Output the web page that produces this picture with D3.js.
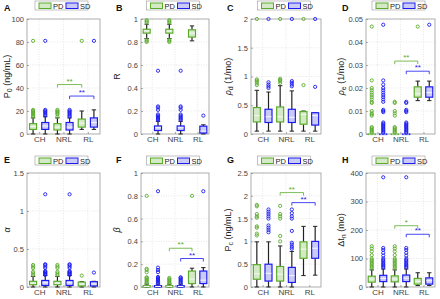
<!DOCTYPE html>
<html><head><meta charset="utf-8">
<script src="https://cdn.jsdelivr.net/npm/d3@7"></script>
<style>body{margin:0;background:#fff}svg{display:block;font-family:"Liberation Sans",Arial,sans-serif}</style>
</head><body><svg id="c" width="440" height="299"></svg>
<script>
const categories = ["CH", "NRL", "RL"];
const seriesNames = ["PD", "SD"];
// box order: CH-PD, CH-SD, NRL-PD, NRL-SD, RL-PD, RL-SD ; stats = [low, q1, median, q3, high]
const statsA = [[0,4,6.5,9,14],[0,4,7,10,15],[0,3.5,6,9,14],[0,3.5,6,10,14],[4,6,9.5,13,20],[4,6,10,14,21]];
const outA = [[15,16,17,18,19,20,21,81],[16,17,18,19,20,21,81],[15,17,18,19,20,21],[15,16,17,18,19,20,21],[81],[81]];
const sigA = [[3,5,43,"**",0],[4,6,33,"**",1]];
const ticksA = [0,20,40,60,80,100];

const statsB = [[0.83,0.877,0.897,0.911,0.955],[0,0.03,0.055,0.07,0.11],[0.83,0.877,0.895,0.911,0.955],[0,0.03,0.055,0.07,0.11],[0.81,0.843,0.877,0.906,0.94],[0,0.008,0.025,0.068,0.08]];
const outB = [[0.80,0.81,0.82,0.97,0.98,0.99],[0.12,0.13,0.14,0.15,0.16,0.17,0.21,0.23,0.24,0.55],[0.80,0.81,0.82,0.97,0.98,0.99],[0.12,0.13,0.14,0.15,0.16,0.17,0.21,0.23,0.24,0.55],[],[0.16]];
const sigB = [];
const ticksB = [0,0.2,0.4,0.6,0.8,1];

const statsC = [[0.05,0.21,0.32,0.46,0.76],[0.05,0.2,0.3,0.43,0.73],[0.05,0.21,0.3,0.47,0.84],[0.05,0.2,0.29,0.43,0.75],[0.05,0.17,0.34,0.39,0.40],[0.05,0.155,0.32,0.37,0.37]];
const outC = [[0.85,0.88,0.91,0.93,0.95,2],[0.8,0.83,0.86,0.9,2],[0.89,0.92,0.94,0.96,2],[0.83,0.86,0.89,0.92,2],[0.85,2],[0.82,2]];
const sigC = [];
const ticksC = [0,0.5,1,1.5,2];

const statsD = [[0,0,0,0,0],[0,0,0,0,0],[0,0,0,0,0],[0,0,0,0,0],[0.0145,0.016,0.0175,0.0205,0.023],[0.0145,0.016,0.018,0.0205,0.023]];
const outD = [[0.0005,0.001,0.0015,0.002,0.0025,0.003,0.008,0.0085,0.009,0.01,0.0135,0.014,0.015,0.016,0.017,0.018,0.019,0.02,0.0233,0.0467],
  [0.0005,0.001,0.0015,0.002,0.0025,0.003,0.0035,0.004,0.0045,0.005,0.0095,0.01,0.0105,0.014,0.015,0.016,0.017,0.018,0.019,0.02,0.0215,0.0233,0.0475],
  [0.0005,0.001,0.0015,0.002,0.0025,0.003,0.008,0.009,0.01,0.0135,0.014],
  [0.0005,0.001,0.0015,0.002,0.0025,0.003,0.0035,0.004,0.0045,0.005,0.0095,0.01,0.0105,0.0135,0.014],
  [0.0467],[0.0475]];
const sigD = [[3,5,0.0317,"**",0],[4,6,0.0273,"**",1]];
const ticksD = [0,0.01,0.02,0.03,0.04,0.05];

const statsE = [[0,0.03,0.05,0.075,0.14],[0,0.02,0.056,0.086,0.15],[0,0.03,0.05,0.075,0.14],[0,0.02,0.056,0.086,0.15],[0,0.013,0.04,0.065,0.07],[0,0.013,0.04,0.07,0.075]];
const outE = [[0.16,0.18,0.2,0.25,0.27,0.29],[0.16,0.17,0.18,0.19,0.2,0.21,0.25,0.27,0.29,0.3,1.22],[0.16,0.18,0.2,0.25,0.27,0.29],[0.16,0.17,0.18,0.19,0.2,0.21,0.25,0.27,0.29,0.3,1.22],[0.15],[0.19]];
const sigE = [];
const ticksE = [0,0.5,1,1.5];

const statsF = [[0,0,0.005,0.012,0.025],[0,0,0.005,0.012,0.025],[0,0,0.005,0.012,0.025],[0,0,0.005,0.012,0.025],[0,0.03,0.07,0.14,0.165],[0,0.03,0.06,0.14,0.17]];
const outF = [[0.03,0.04,0.05,0.06,0.07,0.08,0.085,0.13,0.15,0.16,0.80],[0.03,0.04,0.05,0.06,0.07,0.08,0.088,0.13,0.15,0.17,0.84],[0.03,0.04,0.05,0.06,0.07,0.08],[0.03,0.04,0.05,0.06,0.07,0.08,0.085],[0.80],[0.84]];
const sigF = [[3,5,0.34,"**",0],[4,6,0.25,"**",1]];
const ticksF = [0,0.2,0.4,0.6,0.8,1];

const statsG = [[0,0.17,0.29,0.49,0.99],[0,0.13,0.3,0.5,0.99],[0,0.13,0.28,0.45,0.9],[0,0.1,0.25,0.43,0.78],[0.25,0.63,0.83,0.99,1.33],[0.26,0.63,0.85,1.0,1.33]];
const outG = [[1.13,1.17,1.3,1.33,1.52,1.55,1.6,1.77,1.8],[1.2,1.25,1.3,1.35,1.5,1.55,1.6,1.65,1.7],[1.0,1.12,1.5,1.55,1.6,1.78],[0.84,0.88,0.93,0.97,1.23,1.5,1.55,1.62,1.7],[],[]];
const sigG = [[3,5,2.07,"**",0],[4,6,1.85,"**",1]];
const ticksG = [0,0.5,1,1.5,2,2.5];

const statsH = [[0,17,28,38,60],[0,19,30,41,63],[0,18,28,39,60],[0,19,31,42,63],[5,10,20,30,50],[5,10,22,32,50]];
const outH = [[65,70,75,80,85,90,95,100,112,125,135,143],[68,72,76,80,85,90,95,100,110,120,130,137,385],[65,70,75,80,85,90,95,100,112,125,135,143],[68,72,76,80,85,90,95,100,110,120,130,137,385],[],[]];
const sigH = [[3,5,215,"*",0],[4,6,185,"**",1]];
const ticksH = [0,100,200,300,400];

const panelLetters = ["A","B","C","D","E","F","G","H"];
const yLabels = [
  [["P",""],["0","sub"],[" (ng/mL)",""]],
  [["R",""]],
  [["ρ","it"],["d","sub"],[" (1/mo)",""]],
  [["ρ","it"],["e","sub"],[" (1/mo)",""]],
  [["α","it"]],
  [["β","it"]],
  [["P",""],["c","sub"],[" (ng/mL)",""]],
  [["Δt",""],["n","sub"],[" (mo)",""]]
];
const allStats = [statsA,statsB,statsC,statsD,statsE,statsF,statsG,statsH];
const allOut = [outA,outB,outC,outD,outE,outF,outG,outH];
const allSig = [sigA,sigB,sigC,sigD,sigE,sigF,sigG,sigH];
const allTicks = [ticksA,ticksB,ticksC,ticksD,ticksE,ticksF,ticksG,ticksH];

// layout
const cols = [{x0:27,x1:100,yl:10,lx:4},{x0:141,x1:209,yl:120,lx:116},{x0:251,x1:321,yl:231,lx:227},{x0:366,x1:435,yl:344,lx:342}];
const rows = [{y0:19,y1:134,leg:1,let:11},{y0:173,y1:287,leg:156,let:163}];
const colors = ["#5aab2c","#1c1cf0"], fills = ["#d4eac6","#cacaf6"];

const svg = d3.select("#c");
const fmt = d3.format("~g");

allStats.forEach((stats,i)=>{
  const c = cols[i%4], r = rows[Math.floor(i/4)];
  const ticks = allTicks[i];
  const x = d3.scaleLinear().domain([0.5,6.5]).range([c.x0,c.x1]);
  const y = d3.scaleLinear().domain([ticks[0],ticks[ticks.length-1]]).range([r.y1,r.y0]);
  const g = svg.append("g");
  // grid
  g.selectAll(null).data(ticks.slice(1,-1)).join("line")
    .attr("x1",c.x0).attr("x2",c.x1).attr("y1",d=>y(d)).attr("y2",d=>y(d))
    .attr("stroke","#d9d9d9").attr("stroke-width",0.6).attr("stroke-dasharray","1,1.5");
  g.selectAll(null).data([1.5,3.5,5.5]).join("line")
    .attr("x1",d=>x(d)).attr("x2",d=>x(d)).attr("y1",r.y0).attr("y2",r.y1)
    .attr("stroke","#d9d9d9").attr("stroke-width",0.6).attr("stroke-dasharray","1,1.5");
  // axes
  const ya = g.append("g").attr("transform",`translate(${c.x0},0)`)
    .call(d3.axisLeft(y).tickValues(ticks).tickFormat(fmt).tickSizeInner(-2).tickSizeOuter(0).tickPadding(3));
  const xa = g.append("g").attr("transform",`translate(0,${r.y1})`)
    .call(d3.axisBottom(x).tickValues([1.5,3.5,5.5]).tickFormat((d,k)=>categories[k]).tickSizeInner(-2).tickSizeOuter(0).tickPadding(2));
  [ya,xa].forEach(a=>{
    a.select(".domain").remove();
    a.selectAll(".tick line").attr("stroke","#777").attr("stroke-width",0.6);
    a.selectAll(".tick text").attr("fill","#444").style("font-size","7.5px").style("font-family","Liberation Sans, Arial, sans-serif");
  });
  xa.selectAll(".tick text").style("font-size","8px");
  g.append("rect").attr("x",c.x0).attr("y",r.y0).attr("width",c.x1-c.x0).attr("height",r.y1-r.y0)
    .attr("fill","none").attr("stroke","#8a8a8a").attr("stroke-width",0.7);
  // boxes
  const bw = 7, cap = 2.2;
  stats.forEach((s,k)=>{
    const cx = x(k+1), col = colors[k%2];
    const [lo,q1,md,q3,hi] = s;
    g.append("line").attr("x1",cx).attr("x2",cx).attr("y1",y(q3)).attr("y2",y(hi)).attr("stroke","#222").attr("stroke-width",1.2);
    g.append("line").attr("x1",cx).attr("x2",cx).attr("y1",y(q1)).attr("y2",y(lo)).attr("stroke","#222").attr("stroke-width",1.2);
    [lo,hi].forEach(v=>g.append("line").attr("x1",cx-cap).attr("x2",cx+cap).attr("y1",y(v)).attr("y2",y(v)).attr("stroke","#222").attr("stroke-width",1));
    g.append("rect").attr("x",cx-bw/2).attr("width",bw).attr("y",y(q3)).attr("height",Math.max(0.5,y(q1)-y(q3)))
      .attr("fill",fills[k%2]).attr("stroke",col).attr("stroke-width",1.2);
    g.append("line").attr("x1",cx-bw/2+0.6).attr("x2",cx+bw/2-0.6).attr("y1",y(md)).attr("y2",y(md))
      .attr("stroke","#f4f4f4").attr("stroke-width",1.1);
    g.selectAll(null).data(allOut[i][k]).join("circle")
      .attr("cx",cx).attr("cy",d=>y(d)).attr("r",1.6).attr("fill","none").attr("stroke",col).attr("stroke-width",0.9);
  });
  // significance brackets
  allSig[i].forEach(([a,b,v,lab,si])=>{
    const yy = y(v), col = colors[si];
    g.append("path").attr("d",`M${x(a)},${yy+3}V${yy}H${x(b)}V${yy+3}`).attr("fill","none").attr("stroke",col).attr("stroke-width",0.8);
    g.append("text").attr("x",(x(a)+x(b))/2).attr("y",yy-1).attr("text-anchor","middle")
      .attr("fill",col).style("font-size","8px").text(lab);
  });
  // y label
  const t = g.append("text").attr("transform",`translate(${c.yl},${(r.y0+r.y1)/2}) rotate(-90)`)
    .attr("text-anchor","middle").attr("fill","#222").style("font-size","9px");
  yLabels[i].forEach(([txt,st])=>{
    const ts = t.append("tspan").text(txt);
    if(st==="sub") ts.attr("baseline-shift","-25%").style("font-size","7px");
    if(st==="it") ts.style("font-style","italic");
  });
  // panel letter
  g.append("text").attr("x",c.lx).attr("y",r.let).style("font-size","9px").style("font-weight","bold").attr("fill","#111").text(panelLetters[i]);
  // legend
  const lw = 53, lx = (c.x0+c.x1)/2 - 2 - lw/2, ly = r.leg;
  const lg = g.append("g").attr("transform",`translate(${lx},${ly})`);
  lg.append("rect").attr("width",lw).attr("height",9).attr("fill","#fff").attr("stroke","#999").attr("stroke-width",0.6);
  seriesNames.forEach((nm,k)=>{
    lg.append("rect").attr("x",4+k*27).attr("y",2).attr("width",12).attr("height",5.5)
      .attr("fill",fills[k]).attr("stroke",colors[k]).attr("stroke-width",1);
    lg.append("text").attr("x",18+k*27).attr("y",7.6).style("font-size","7.5px").attr("fill","#222").text(nm);
  });
});
</script></body></html>
